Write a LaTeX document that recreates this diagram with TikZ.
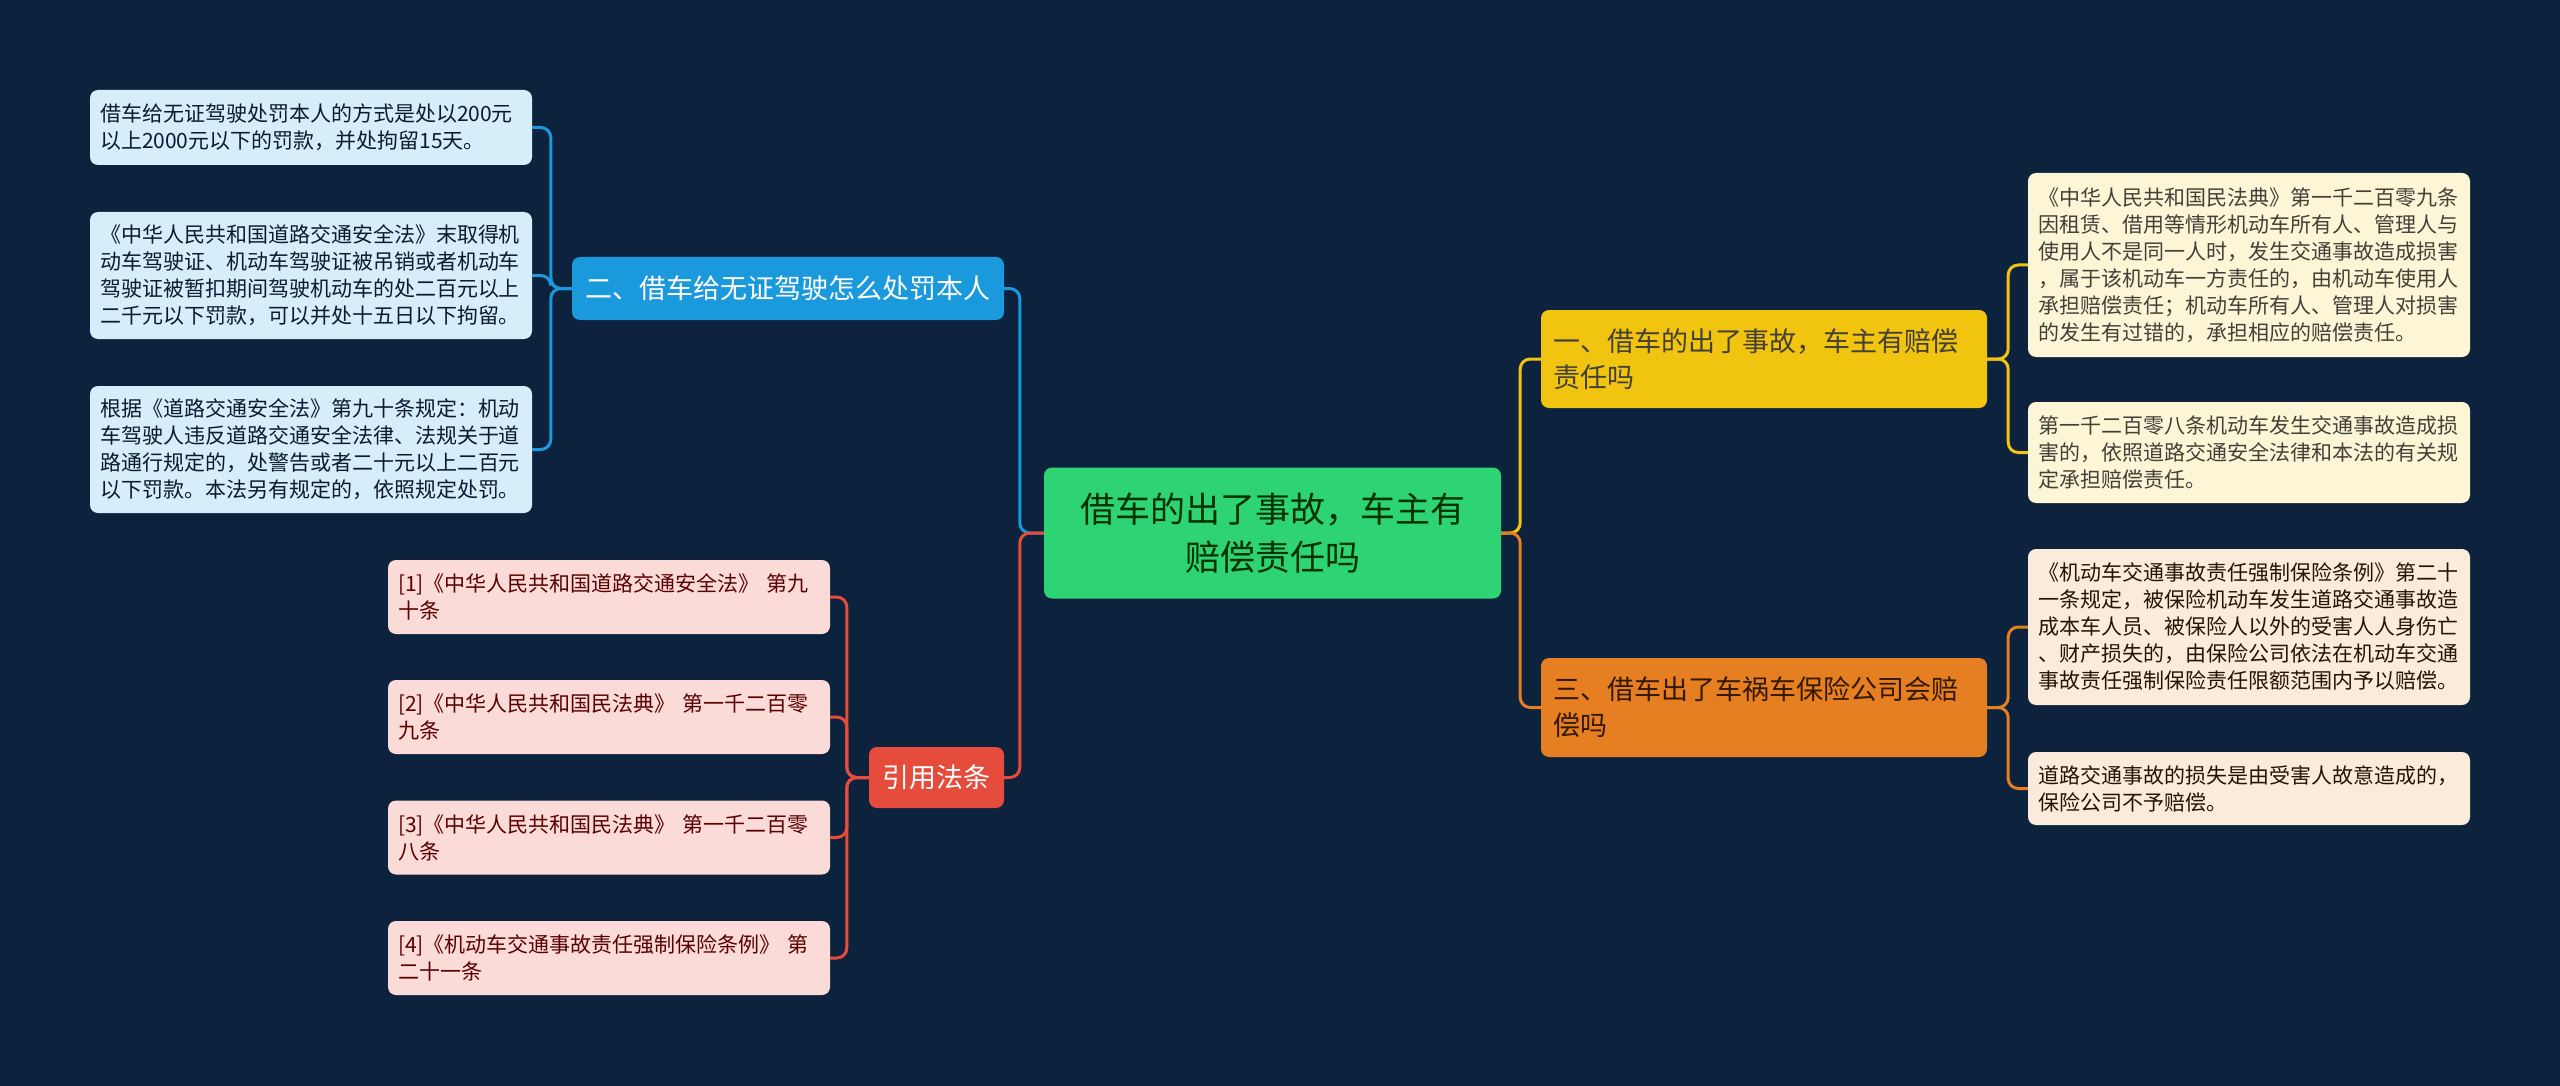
\documentclass[tikz,border=0pt]{standalone}
\usepackage{fontspec}
\setmainfont{Noto Sans CJK SC}
\usetikzlibrary{positioning,calc}
\definecolor{hatter}{RGB}{13,34,61}
\definecolor{zold}{RGB}{46,211,115}
\definecolor{kek}{RGB}{26,153,220}
\definecolor{piros}{RGB}{229,76,60}
\definecolor{sarga}{RGB}{241,196,15}
\definecolor{narancs}{RGB}{230,126,34}
\definecolor{kekv}{RGB}{214,237,250}
\definecolor{pirosv}{RGB}{250,219,216}
\definecolor{sargav}{RGB}{253,246,214}
\definecolor{narancsv}{RGB}{251,235,219}
\tikzset{
  zhuti/.style={rounded corners=8pt,fill=zold,text=black!80!green,align=center,font=\fontsize{35}{48}\selectfont,
                minimum width=457pt,minimum height=131pt},
  fenzhi/.style={rounded corners=8pt,align=left,font=\fontsize{27}{36}\selectfont,inner xsep=12pt},
  yezi/.style={rounded corners=8pt,align=left,font=\fontsize{21}{27}\selectfont,inner xsep=10pt,
               text width=422pt,minimum width=442pt},
  lian/.style={line width=3pt,rounded corners=10pt},
}
\begin{document}
\begin{tikzpicture}[x=1pt,y=-1pt]
  \fill[hatter] (0,0) rectangle (2560,1086);
  \useasboundingbox (0,0) rectangle (2560,1086);
  % kozep
  \node[zhuti] (m) at (1272.5,533) {借车的出了事故，车主有\\赔偿责任吗};
  % jobb oldal
  \node[fenzhi,fill=sarga,text=black!85!yellow,text width=422pt,minimum width=446pt,minimum height=98pt]
    (b1) at (1764,359) {一、借车的出了事故，车主有赔偿\\责任吗};
  \node[fenzhi,fill=narancs,text=black!80!orange,text width=422pt,minimum width=446pt,minimum height=99pt]
    (b3) at (1764,707.5) {三、借车出了车祸车保险公司会赔\\偿吗};
  \node[yezi,fill=sargav,text=black!85!yellow,minimum height=184pt] (y1) at (2249,265)
    {《中华人民共和国民法典》第一千二百零九条\\因租赁、借用等情形机动车所有人、管理人与\\使用人不是同一人时，发生交通事故造成损害\\，属于该机动车一方责任的，由机动车使用人\\承担赔偿责任；机动车所有人、管理人对损害\\的发生有过错的，承担相应的赔偿责任。};
  \node[yezi,fill=sargav,text=black!85!yellow,minimum height=101pt] (y2) at (2249,452.5)
    {第一千二百零八条机动车发生交通事故造成损\\害的，依照道路交通安全法律和本法的有关规\\定承担赔偿责任。};
  \node[yezi,fill=narancsv,text=black!85!orange,minimum height=156pt] (o1) at (2249,627)
    {《机动车交通事故责任强制保险条例》第二十\\一条规定，被保险机动车发生道路交通事故造\\成本车人员、被保险人以外的受害人人身伤亡\\、财产损失的，由保险公司依法在机动车交通\\事故责任强制保险责任限额范围内予以赔偿。};
  \node[yezi,fill=narancsv,text=black!85!orange,minimum height=73pt] (o2) at (2249,788.5)
    {道路交通事故的损失是由受害人故意造成的，\\保险公司不予赔偿。};
  % bal oldal
  \node[fenzhi,fill=kek,text=white,minimum width=432pt,minimum height=63pt,align=center]
    (b2) at (788,288.5) {二、借车给无证驾驶怎么处罚本人};
  \node[fenzhi,fill=piros,text=white,minimum width=135pt,minimum height=61pt,align=center]
    (b4) at (936.5,777.5) {引用法条};
  \node[yezi,fill=kekv,text=hatter!80!black,minimum height=75pt] (k1) at (311,127.5)
    {借车给无证驾驶处罚本人的方式是处以200元\\以上2000元以下的罚款，并处拘留15天。};
  \node[yezi,fill=kekv,text=hatter!80!black,minimum height=127pt] (k2) at (311,275.5)
    {《中华人民共和国道路交通安全法》末取得机\\动车驾驶证、机动车驾驶证被吊销或者机动车\\驾驶证被暂扣期间驾驶机动车的处二百元以上\\二千元以下罚款，可以并处十五日以下拘留。};
  \node[yezi,fill=kekv,text=hatter!80!black,minimum height=127pt] (k3) at (311,449.5)
    {根据《道路交通安全法》第九十条规定：机动\\车驾驶人违反道路交通安全法律、法规关于道\\路通行规定的，处警告或者二十元以上二百元\\以下罚款。本法另有规定的，依照规定处罚。};
  \node[yezi,fill=pirosv,text=red!35!black,minimum height=74pt] (p1) at (609,597)
    {[1]《中华人民共和国道路交通安全法》 第九\\十条};
  \node[yezi,fill=pirosv,text=red!35!black,minimum height=74pt] (p2) at (609,717)
    {[2]《中华人民共和国民法典》 第一千二百零\\九条};
  \node[yezi,fill=pirosv,text=red!35!black,minimum height=74pt] (p3) at (609,837.5)
    {[3]《中华人民共和国民法典》 第一千二百零\\八条};
  \node[yezi,fill=pirosv,text=red!35!black,minimum height=74pt] (p4) at (609,958)
    {[4]《机动车交通事故责任强制保险条例》 第\\二十一条};
  % vonalak
  \draw[lian,draw=sarga] (m.east) -- ++(19,0) |- (b1.west);
  \draw[lian,draw=narancs] (m.east) -- ++(19,0) |- (b3.west);
  \draw[lian,draw=kek] (m.west) -- ++(-24,0) |- (b2.east);
  \draw[lian,draw=piros] (m.west) -- ++(-24,0) |- (b4.east);
  \foreach \l in {y1,y2} \draw[lian,draw=sarga] (b1.east) -- ++(21,0) |- (\l.west);
  \foreach \l in {o1,o2} \draw[lian,draw=narancs] (b3.east) -- ++(21,0) |- (\l.west);
  \foreach \l in {k1,k2,k3} \draw[lian,draw=kek] (b2.west) -- ++(-21,0) |- (\l.east);
  \foreach \l in {p1,p2,p3,p4} \draw[lian,draw=piros] (b4.west) -- ++(-22,0) |- (\l.east);
\end{tikzpicture}
\end{document}
